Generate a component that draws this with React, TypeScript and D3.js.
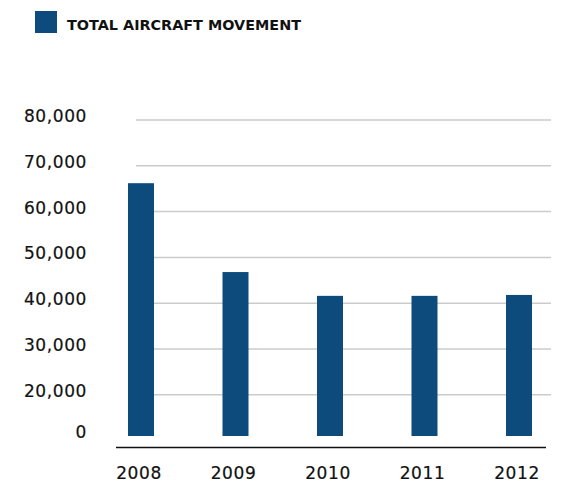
import React from "react";
import * as d3 from "d3";

const years = ["2008", "2009", "2010", "2011", "2012"];
const movements = [66200, 46800, 41600, 41600, 41800];
const gridValues = [20000, 30000, 40000, 50000, 60000, 70000, 80000];
const tickLabels = ["0", "20,000", "30,000", "40,000", "50,000", "60,000", "70,000", "80,000"];
const legendLabel = "TOTAL AIRCRAFT MOVEMENT";

const W = 568;
const H = 481;
const BAR = "#0d4b7d";
const FONT = "'DejaVu Sans', sans-serif";

export default function App() {
  const baseValue = 11000;
  const y = d3.scaleLinear().domain([baseValue, 80000]).range([436, 120]);
  const x = d3.scalePoint<string>().domain(years).range([141, 519]);
  const barW = 26;
  const gridX0 = 136;
  const gridX1 = 551;
  const axisY = 447.5;
  const labelVals = [baseValue, ...gridValues];

  return (
    <svg
      width={W}
      height={H}
      style={{ position: "absolute", left: 0, top: 0, background: "#fff" }}
    >
      <rect x={35} y={11} width={22} height={22} fill={BAR} />
      <text
        x={67}
        y={29.5}
        fontFamily={FONT}
        fontWeight="bold"
        fontSize={13.5}
        fill="#111"
        textLength={234}
        lengthAdjust="spacingAndGlyphs"
      >
        {legendLabel}
      </text>

      {gridValues.map((v) => (
        <line
          key={v}
          x1={gridX0}
          x2={gridX1}
          y1={y(v)}
          y2={y(v)}
          stroke="#cbcbcb"
          strokeWidth={1.5}
        />
      ))}

      {labelVals.map((v, i) => (
        <text
          key={v}
          x={87}
          y={y(v) + 2}
          textAnchor="end"
          fontFamily={FONT}
          fontSize={17}
          letterSpacing={0.6}
          fill="#111"
          stroke="#111"
          strokeWidth={0.2}
        >
          {tickLabels[i]}
        </text>
      ))}

      {years.map((yr, i) => (
        <rect
          key={yr}
          x={(x(yr) as number) - barW / 2}
          y={y(movements[i])}
          width={barW}
          height={y(baseValue) - y(movements[i])}
          fill={BAR}
        />
      ))}

      <line x1={116} x2={546} y1={axisY} y2={axisY} stroke="#111" strokeWidth={1.4} />

      {years.map((yr) => (
        <text
          key={yr}
          x={(x(yr) as number) - 2}
          y={478.5}
          textAnchor="middle"
          fontFamily={FONT}
          fontSize={17}
          letterSpacing={0.6}
          fill="#111"
          stroke="#111"
          strokeWidth={0.2}
        >
          {yr}
        </text>
      ))}
    </svg>
  );
}
